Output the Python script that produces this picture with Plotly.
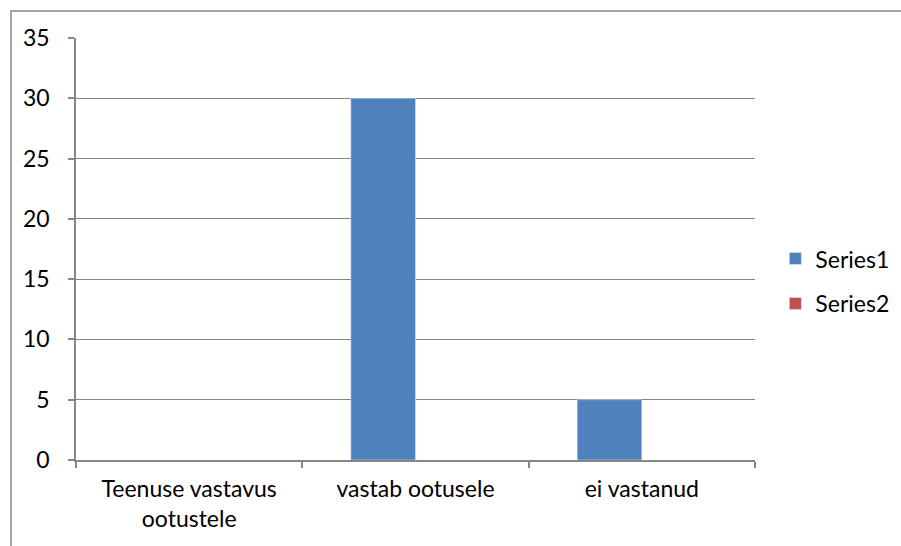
import plotly.graph_objects as go

categories = ["Teenuse vastavus<br>ootustele", "vastab ootusele", "ei vastanud"]
series1 = [None, 30, 5]
series2 = [None, None, None]
y_ticks = [0, 5, 10, 15, 20, 25, 30, 35]

grey = "#868686"
font = dict(family="Lato, Liberation Sans, sans-serif", size=23, color="#000000")

fig = go.Figure()
fig.add_trace(go.Bar(name="Series1", x=categories, y=series1, marker_color="#4F81BD",
                     legendgroup="a"))
fig.add_trace(go.Bar(name="Series2", x=categories, y=series2, marker_color="#C0504D",
                     legendgroup="b"))

fig.update_layout(
    width=901, height=546,
    margin=dict(l=76, r=146, t=38, b=86, autoexpand=False),
    paper_bgcolor="white", plot_bgcolor="white",
    barmode="group", bargap=1.5 / 3.5, bargroupgap=0,
    font=font,
    showlegend=True,
    legend=dict(x=1.03, y=0.424, xanchor="left", yanchor="middle",
                tracegroupgap=12, font=font, bgcolor="rgba(0,0,0,0)"),
    shapes=[dict(type="rect", xref="paper", yref="paper",
                 x0=-0.0957, x1=1.4, y0=-0.4, y1=1.064,
                 line=dict(color=grey, width=1.5), layer="below")],
)
fig.update_xaxes(
    type="category", showgrid=False, showline=True, linecolor=grey, linewidth=1.5,
    ticks="outside", tickson="boundaries", ticklen=6, tickcolor=grey, tickwidth=1.5,
    tickfont=font, ticklabelstandoff=8,
)
fig.update_yaxes(
    range=[0, 35], tickvals=y_ticks, showgrid=True, gridcolor=grey, gridwidth=1,
    showline=True, linecolor=grey, linewidth=1.5, zeroline=False,
    ticks="outside", ticklen=6, tickcolor=grey, tickwidth=1.5, tickfont=font,
    ticklabelstandoff=14,
)

fig.write_html("out.html", config={"displayModeBar": False},
               post_script="document.body.style.margin='0';")
